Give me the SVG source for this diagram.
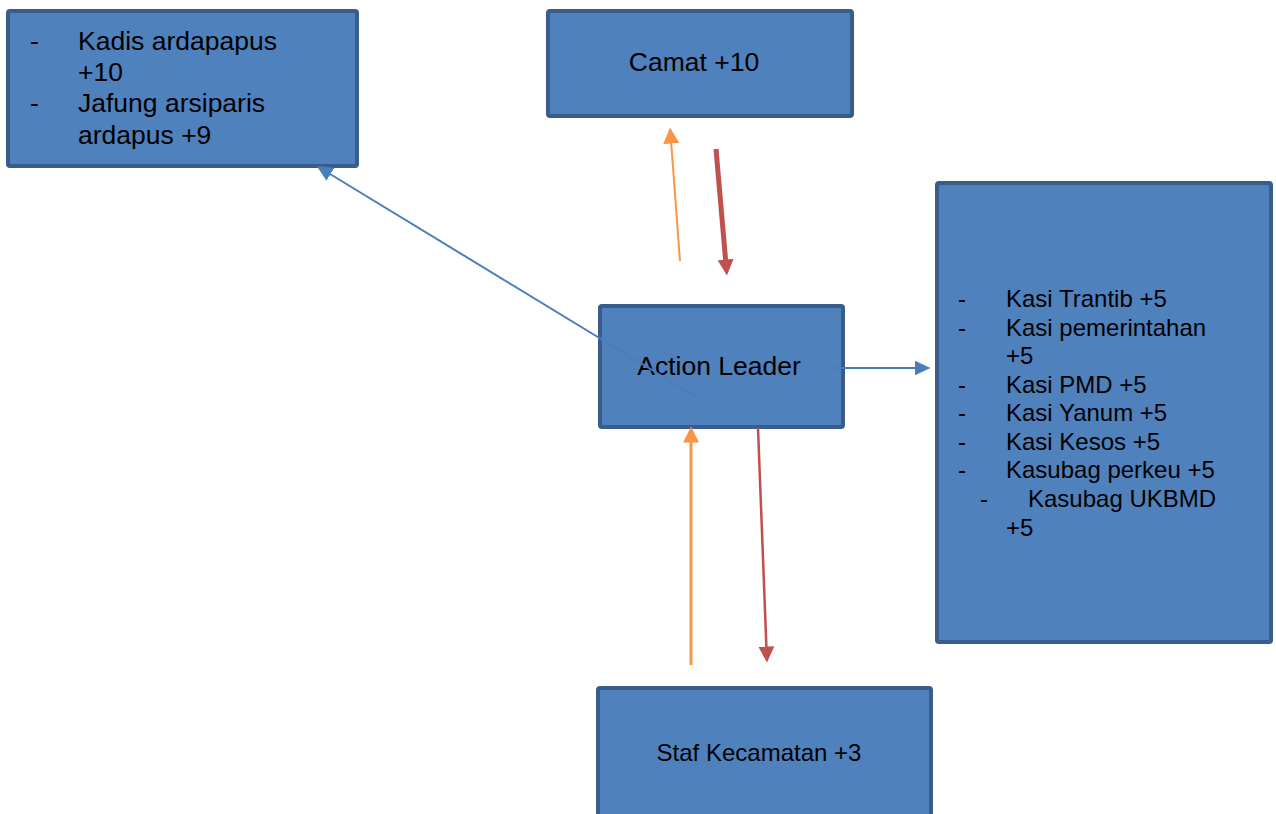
<svg xmlns="http://www.w3.org/2000/svg" width="1276" height="814" viewBox="0 0 1276 814">
<style>
.box{fill:#4F81BD;stroke:#385D8A;stroke-width:4}
.t{font-family:"Liberation Sans",Arial,sans-serif;fill:#000}
.t26{font-size:26.5px}
.t24{font-size:24px}
.blue{stroke:#4A7EBB;stroke-width:2;fill:none}
.orange{stroke:#F79646;fill:none}
.red{stroke:#C0504D;fill:none}
</style>
<defs>
<marker id="ab" markerUnits="userSpaceOnUse" markerWidth="17" markerHeight="15" refX="0.5" refY="7.5" orient="auto"><path d="M0,0 L16,7.5 L0,15 z" fill="#4A7EBB"/></marker>
<marker id="ao" markerUnits="userSpaceOnUse" markerWidth="17" markerHeight="16" refX="0.5" refY="8" orient="auto"><path d="M0,0 L16,8 L0,16 z" fill="#F79646"/></marker>
<marker id="ar" markerUnits="userSpaceOnUse" markerWidth="17" markerHeight="16" refX="0.5" refY="8" orient="auto"><path d="M0,0 L16,8 L0,16 z" fill="#C0504D"/></marker>
</defs>
<rect width="1276" height="814" fill="#fff"/>
<g id="node-kadis">
<rect class="box" x="8" y="11" width="349" height="155" rx="2"/>
<text class="t t26" x="30" y="50">-</text><text class="t t26" x="78" y="50">Kadis ardapapus</text>
<text class="t t26" x="78" y="81">+10</text>
<text class="t t26" x="30" y="112">-</text><text class="t t26" x="78" y="112">Jafung arsiparis</text>
<text class="t t26" x="78" y="144">ardapus +9</text>
</g>
<g id="node-camat">
<rect class="box" x="548" y="11" width="304" height="105" rx="2"/>
<text class="t t26" x="694" y="71" text-anchor="middle">Camat +10</text>
</g>
<g id="node-action">
<rect class="box" x="600" y="306" width="243" height="121" rx="2"/>
<text class="t t26" x="719" y="375" text-anchor="middle">Action Leader</text>
</g>
<g id="node-kasi">
<rect class="box" x="937" y="183" width="334" height="459" rx="2"/>
<g class="t t24">
<text x="958" y="307">-</text><text x="1006" y="307">Kasi Trantib +5</text>
<text x="958" y="336">-</text><text x="1006" y="336">Kasi pemerintahan</text>
<text x="1006" y="364">+5</text>
<text x="958" y="393">-</text><text x="1006" y="393">Kasi PMD +5</text>
<text x="958" y="421">-</text><text x="1006" y="421">Kasi Yanum +5</text>
<text x="958" y="450">-</text><text x="1006" y="450">Kasi Kesos +5</text>
<text x="958" y="478">-</text><text x="1006" y="478">Kasubag perkeu +5</text>
<text x="980" y="507">-</text><text x="1028" y="507">Kasubag UKBMD</text>
<text x="1006" y="536">+5</text>
</g>
</g>
<g id="node-staf">
<rect class="box" x="598" y="688" width="333" height="140" rx="2"/>
<text class="t t24" x="759" y="761" text-anchor="middle">Staf Kecamatan +3</text>
</g>
<g id="connectors">
<line class="blue" x1="698" y1="398" x2="330" y2="174" marker-end="url(#ab)"/>
<line class="blue" x1="832" y1="368" x2="915" y2="368" marker-end="url(#ab)"/>
<line class="orange" stroke-width="2" x1="680" y1="261" x2="671.2" y2="143" marker-end="url(#ao)"/>
<line class="red" stroke-width="5" x1="716" y1="149" x2="725.6" y2="260" marker-end="url(#ar)"/>
<line class="orange" stroke-width="3" x1="691" y1="665" x2="691" y2="442" marker-end="url(#ao)"/>
<line class="red" stroke-width="2.5" x1="758" y1="428" x2="766.4" y2="647" marker-end="url(#ar)"/>
</g>
</svg>
